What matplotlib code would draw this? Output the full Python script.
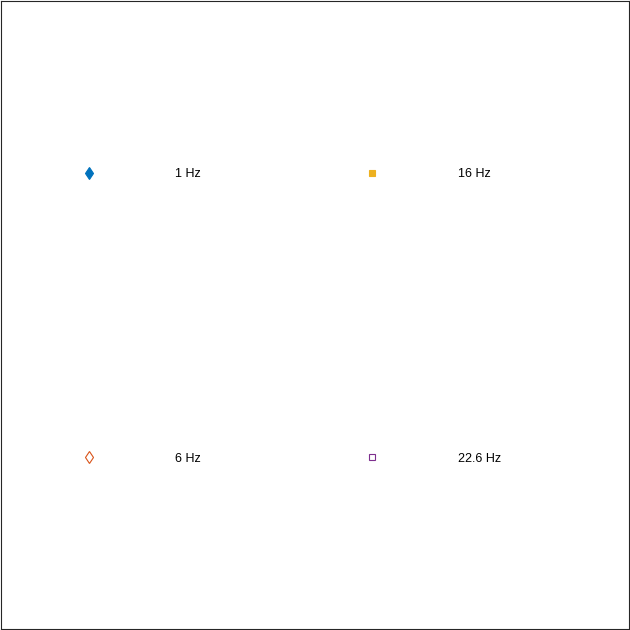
import matplotlib.pyplot as plt
from matplotlib.lines import Line2D

# legend entries (MATLAB default colour order)
labels = ["1 Hz", "6 Hz", "16 Hz", "22.6 Hz"]
markers = ["d", "d", "s", "s"]
colors = ["#0072BD", "#D95319", "#EDB120", "#7E2F8E"]
filled = [True, False, True, False]
sizes = [6.1, 6.1, 5, 5]

plt.rcParams['font.family'] = ['Liberation Sans', 'DejaVu Sans']

fig = plt.figure(figsize=(6.3, 6.3), dpi=100)
ax = fig.add_axes([0.0008, 0.0008, 0.997, 0.997])
ax.set_xticks([])
ax.set_yticks([])
for s in ax.spines.values():
    s.set_color("#262626")
    s.set_linewidth(0.8)

handles = []
for lab, m, c, f, ms in zip(labels, markers, colors, filled, sizes):
    h = Line2D([], [], linestyle="none", marker=m, markersize=ms,
               markeredgecolor=c, markerfacecolor=c if f else "white",
               markeredgewidth=0.8, label=lab)
    handles.append(h)

fs = 9
ax.legend(handles=handles, ncol=2, frameon=False, fontsize=fs,
          loc="upper left", bbox_to_anchor=(64 / 630, 1 - 168.5 / 630),
          bbox_transform=fig.transFigure,
          borderpad=0, borderaxespad=0,
          handlelength=4, handletextpad=4.88,
          columnspacing=11.7, labelspacing=21.78)

fig.savefig("out.png", dpi=100)
